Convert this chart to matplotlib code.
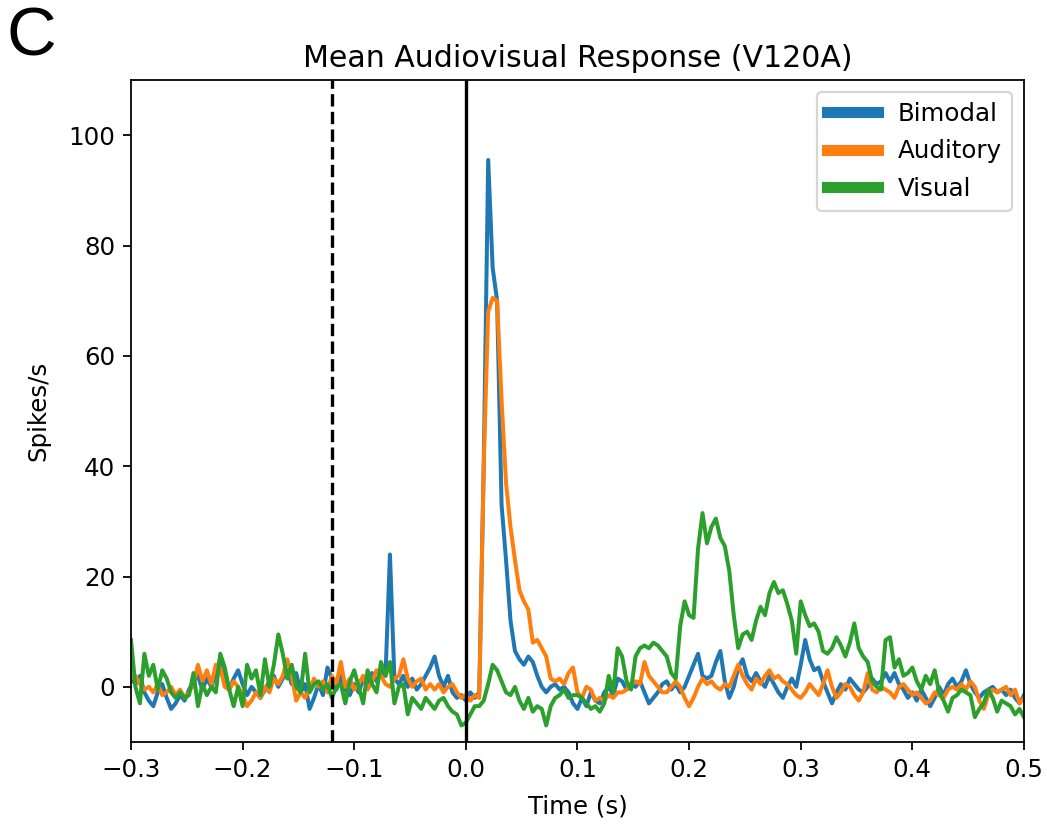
import numpy as np
import matplotlib
matplotlib.use("Agg")
import matplotlib.pyplot as plt

plt.rcParams["font.size"] = 11

# PSTH time base (s), 4 ms bins
time = np.linspace(-0.3, 0.5, 201)

bimodal = [1.5, 0.5, 2.0, -1.0, -2.5,
           -3.5, -1.0, 0.5, -2.0, -4.0,
           -3.0, -1.5, -2.5, -0.5, 1.0,
           2.0, -0.5, 1.5, 0.0, 2.5,
           5.0, 2.0, -0.5, 1.5, 3.0,
           0.5, -1.5, 0.0, -1.0, -2.0,
           -0.5, 1.0, 2.0, 0.0, 1.5,
           3.0, 0.5, 2.5, -1.0, 0.5,
           -4.0, -2.0, 0.5, -1.5, 3.5,
           1.5, -0.5, 2.0, -0.5, -1.5,
           0.5, -1.0, 1.5, 0.0, 2.5,
           1.0, 3.0, 2.0, 24.0, 1.5,
           0.5, 2.0, 0.0, 1.5, -0.5,
           0.5, 2.0, 3.5, 5.5, 2.0,
           0.0, 2.0, -1.0, -2.0, -1.5,
           -2.5, -1.0, -2.0, -1.0, 40.0,
           95.5, 76.0, 70.0, 33.0, 23.0,
           12.0, 6.5, 5.0, 4.0, 5.5,
           4.5, 2.0, 0.0, -1.0, 0.0,
           0.5, -0.5, 0.0, -1.0, -3.0,
           -4.0, -2.0, -3.5, -1.0, -2.5,
           -3.0, -1.0, 0.0, -1.5, 1.5,
           1.0, -0.5, 0.5, 0.0, 1.0,
           -1.0, -3.0, -2.0, -1.0, 0.5,
           1.0, -0.5, 0.5, -1.0, 0.0,
           2.0, 4.0, 6.0, 2.0, 1.5,
           2.0, 4.5, 6.5, 1.0, -2.0,
           0.0, 3.5, 5.0, 2.0, 1.0,
           2.5, 1.0, 0.0, 2.0, 0.5,
           -1.0, -2.0, 0.0, 1.5, 0.0,
           4.0, 8.5, 5.0, 3.0, 3.5,
           1.0, -1.0, -3.0, -1.0, 0.5,
           -0.5, 1.5, 0.5, -0.5, -1.0,
           0.0, 1.5, 0.5, 1.0, 2.5,
           1.0, 2.5, 0.5, -0.5, -2.0,
           -1.0, -2.5, -0.5, -2.0, -3.5,
           -2.0, 0.0, -1.5, 0.5, 1.5,
           0.0, 1.0, 3.0, 0.5, -1.0,
           -2.0, -1.0, -0.5, 0.0, -1.0,
           -0.5, -1.5, -0.5, -2.0, -3.0,
           -1.5]

auditory = [1.5, 2.0, 0.5, -0.5, 0.0,
            -1.0, 0.5, -1.5, -1.0, 0.0,
            -1.5, -0.5, -2.0, -1.0, 0.5,
            4.0, 1.0, 3.0, 0.5, 4.0,
            3.5, 0.0, -0.5, 1.0, 0.0,
            -1.5, -3.5, -2.5, -1.0, -2.0,
            0.0, -1.0, 1.5, 0.5, 2.0,
            5.0, 2.0, -2.5, -1.0, -2.0,
            -0.5, 1.5, 0.0, 1.0, -1.0,
            2.0, 0.5, 4.5, 0.0, 1.5,
            -0.5, 0.5, 2.0, -0.5, 1.0,
            3.0, 2.0, 0.5, 0.0, 1.5,
            2.0, 5.0, 1.5, 0.0, 1.0,
            1.5, -0.5, 0.5, -0.5, 0.5,
            -1.0, 0.0, 0.5, -1.0, -2.0,
            -1.5, -2.5, -1.5, -2.0, 40.0,
            68.0, 70.5, 70.0, 52.0, 37.0,
            29.0, 23.0, 17.5, 15.5, 14.0,
            8.0, 8.5, 7.0, 5.5, 1.5,
            1.0, 1.5, 0.5, 2.5, 3.5,
            -1.0, -2.0, 0.0, -0.5, -2.5,
            -2.0, -2.5, -1.5, -2.0, -1.0,
            -1.0, -0.5, 0.5, 1.0, 0.5,
            4.5, 2.0, 1.0, 0.0, -1.0,
            -1.0, 0.0, 1.0, 0.0, -2.0,
            -3.5, -2.0, 0.0, 1.5, 0.5,
            1.0, 0.0, -0.5, 0.5, 0.0,
            2.0, 4.0, 2.0, 0.5, -0.5,
            1.5, 0.5, 2.0, 3.0, 1.5,
            2.0, 1.0, 0.5, -0.5, -1.5,
            -2.0, -1.0, 0.5, -0.5, -1.5,
            0.5, 3.0, 0.0, -2.0, -1.0,
            0.5, 0.0, -1.5, -2.5, -1.0,
            2.5, -0.5, -1.0, 0.0, -0.5,
            -1.0, -2.0, 0.0, 0.5, -0.5,
            -1.5, -1.0, -2.0, -3.0, -2.5,
            -1.0, -1.5, -2.0, -0.5, 0.0,
            -0.5, 0.5, -0.5, 1.0, 0.0,
            -2.5, -4.0, -1.5, -0.5, -1.0,
            -0.5, 0.0, -1.5, -0.5, -3.0,
            -2.0]

visual = [8.5, 0.0, -3.0, 6.0, 2.0,
          4.0, -0.5, 3.0, 1.5, -1.0,
          -2.0, -1.0, -2.0, -1.5, 2.5,
          -3.5, 0.5, -1.5, 0.0, -1.0,
          6.0, 3.5, -0.5, -3.5, 0.0,
          -3.5, 4.0, 1.5, 3.0, -1.5,
          5.0, 0.0, 4.0, 9.5, 6.0,
          1.5, 4.0, 0.0, -1.0, 6.0,
          -1.0, 0.5, 1.0, -0.5, 0.5,
          -2.0, 0.0, 0.5, -3.0, 1.0,
          3.0, 0.0, -3.0, 3.0, 0.5,
          -1.0, 4.5, 2.0, 4.5, -3.0,
          0.0, 0.5, -5.0, -2.0, -3.0,
          -4.0, -2.0, -3.0, -4.0, -2.5,
          -2.0, -3.5, -4.5, -5.0, -7.0,
          -6.5, -5.0, -3.5, -3.5, -2.5,
          0.5, 4.0, 3.0, 1.0, -1.0,
          -1.5, 0.0, -2.5, -4.0, -2.0,
          -4.5, -3.5, -4.0, -7.0, -3.5,
          -2.0, -1.5, -0.5, -2.0, -1.5,
          -1.5, -2.0, -3.0, -4.0, -3.5,
          -4.5, -3.0, 2.0, -1.0, 7.0,
          5.5, 1.0, -0.5, 5.5, 7.0,
          7.5, 7.0, 8.0, 7.5, 6.5,
          5.5, 2.5, 1.5, 11.0, 15.5,
          13.0, 12.5, 25.0, 31.5, 26.0,
          29.0, 30.5, 27.0, 25.5, 21.0,
          13.0, 7.0, 9.5, 10.0, 8.5,
          12.0, 14.5, 13.0, 17.0, 19.0,
          17.0, 17.5, 15.0, 12.0, 6.0,
          15.5, 13.0, 11.0, 11.5, 10.0,
          6.5, 6.0, 7.0, 9.0, 7.5,
          5.5, 8.0, 11.5, 7.0, 5.5,
          4.5, 1.0, 0.0, -0.5, 8.5,
          9.0, 3.5, 5.0, 2.0, 2.5,
          3.5, 1.0, -0.5, 2.0, 0.5,
          3.0, -1.0, -2.5, -4.5, -2.0,
          -1.5, -0.5, -1.0, -1.5, -5.5,
          -4.0, -3.0, -0.5, -2.0, -4.5,
          -2.5, -3.0, -3.5, -5.0, -4.0,
          -5.5]

labels = ["Bimodal", "Auditory", "Visual"]
cue_time = -0.12
stim_time = 0.0

fig = plt.figure(figsize=(1047 / 160, 824 / 160), dpi=160)
ax = fig.add_axes([0.1251, 0.0995, 0.8529, 0.8034])

for trace, name in zip([bimodal, auditory, visual], labels):
    ax.plot(time, trace, label=name, lw=1.8)

ax.axvline(cue_time, color="k", ls="--", lw=1.5)
ax.axvline(stim_time, color="k", lw=1.5)

ax.set_xlim(-0.3, 0.5)
ax.set_ylim(-10, 110)
ax.set_xlabel("Time (s)", labelpad=6)
ax.set_ylabel("Spikes/s", labelpad=8)
ax.set_title("Mean Audiovisual Response (V120A)", fontsize=13.5)

leg = ax.legend(loc="upper right", handlelength=2.1, labelspacing=0.55)
for line in leg.get_lines():
    line.set_linewidth(5)

fig.text(0.006, 0.993, "C", fontsize=31, family="Liberation Sans", va="top", ha="left")

fig.savefig("out.png", dpi=160)
